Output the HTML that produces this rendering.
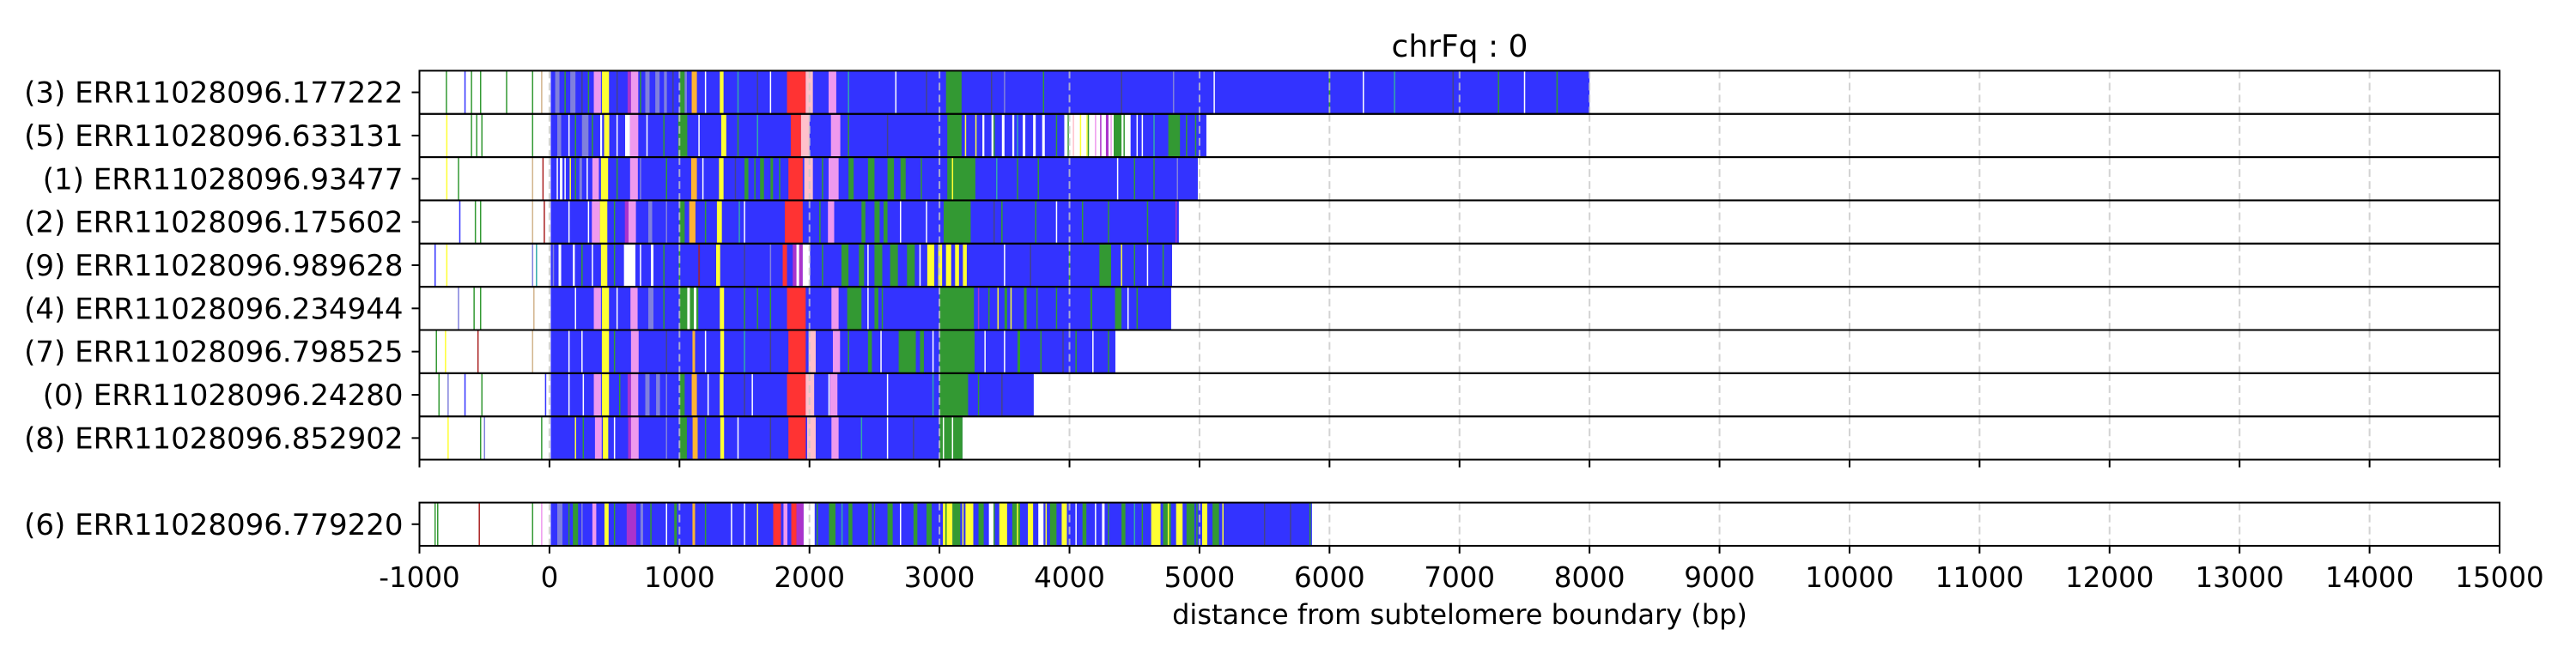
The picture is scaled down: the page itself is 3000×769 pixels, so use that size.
<!DOCTYPE html>
<html><head><meta charset="utf-8">
<style>
html,body{margin:0;padding:0;background:#fff;}
svg{display:block;font-family:"DejaVu Sans","Liberation Sans",sans-serif;}
</style></head>
<body>
<svg id="chart" width="3000" height="769" viewBox="0 0 3000 769" xmlns="http://www.w3.org/2000/svg">
<text x="1700" y="66" font-size="36" text-anchor="middle">chrFq : 0</text>
<g id="tracks"></g>
<g id="axes"></g>
<text x="1700" y="727" font-size="32" text-anchor="middle">distance from subtelomere boundary (bp)</text>
</svg>
<script>
const readLabels = ["(3) ERR11028096.177222","(5) ERR11028096.633131","(1) ERR11028096.93477","(2) ERR11028096.175602","(9) ERR11028096.989628","(4) ERR11028096.234944","(7) ERR11028096.798525","(0) ERR11028096.24280","(8) ERR11028096.852902","(6) ERR11028096.779220"];
const readEnds = [8000,5053,4987,4841,4789,4782,4353,3725,3177,5865];
const xTicks = [-1000,0,1000,2000,3000,4000,5000,6000,7000,8000,9000,10000,11000,12000,13000,14000,15000];
const colorKeys = {B:"#3333ff",G:"#339933",Y:"#ffff33",P:"#ee99ee",L:"#8080dd",O:"#ffb333",R:"#ff3333",M:"#aa33cc",W:"#ffffff",K:"#ffc0cb",C:"#33aaaa",D:"#444488",T:"#d2b48c",N:"#aa2222"};
// blocks per read: [start, end, color]
const blocks0 = [[44,77,"L"],[160,200,"L"],[341,396,"P"],[403,458,"Y"],[601,627,"M"],[627,683,"P"],[737,770,"L"],[814,847,"L"],[881,903,"L"],[1002,1040,"G"],[1040,1057,"L"],[1094,1134,"O"],[1310,1339,"Y"],[1827,1971,"R"],[1971,2026,"K"],[2147,2206,"P"],[3050,3170,"G"]];
const blocks1 = [[60,90,"L"],[250,300,"L"],[390,405,"W"],[420,460,"Y"],[582,620,"W"],[620,683,"P"],[990,1060,"G"],[1321,1360,"Y"],[1856,1935,"R"],[1935,2000,"K"],[2165,2237,"P"],[3060,3170,"G"],[3330,3345,"W"],[3400,3415,"W"],[3480,3500,"W"],[3560,3575,"W"],[3640,3660,"W"],[3720,3740,"W"],[3790,3810,"W"],[3960,4470,"W"],[4080,4090,"Y"],[4130,4140,"Y"],[4140,4150,"G"],[4280,4300,"M"],[4340,4400,"G"],[4760,4850,"G"]];
const blocks2 = [[80,100,"W"],[230,250,"L"],[330,380,"P"],[396,451,"Y"],[620,680,"P"],[1090,1134,"O"],[1304,1339,"Y"],[1500,1530,"G"],[1620,1650,"G"],[1700,1720,"G"],[1838,1948,"R"],[1960,2026,"K"],[2147,2224,"P"],[2300,2340,"G"],[2450,2500,"G"],[2600,2650,"G"],[2700,2740,"G"],[3060,3276,"G"]];
const blocks3 = [[326,388,"P"],[388,445,"Y"],[580,608,"M"],[608,665,"P"],[760,790,"L"],[1000,1040,"G"],[1075,1123,"O"],[1288,1326,"Y"],[1810,1948,"R"],[2142,2190,"P"],[2400,2430,"G"],[2500,2540,"G"],[2570,2600,"G"],[3032,3240,"G"]];
const blocks4 = [[70,90,"W"],[180,195,"W"],[396,445,"Y"],[573,661,"W"],[780,800,"W"],[1282,1313,"Y"],[1794,1827,"R"],[1871,1948,"M"],[1900,1920,"W"],[1948,2004,"W"],[2246,2300,"G"],[2380,2420,"G"],[2500,2560,"G"],[2620,2680,"G"],[2750,2810,"G"],[2906,2960,"Y"],[2990,3020,"Y"],[3050,3090,"Y"],[3120,3150,"Y"],[3180,3210,"Y"],[4230,4320,"G"]];
const blocks5 = [[341,396,"P"],[403,458,"Y"],[623,678,"P"],[760,800,"L"],[1002,1145,"G"],[1060,1080,"W"],[1110,1130,"W"],[1310,1343,"Y"],[1827,1971,"R"],[2169,2224,"P"],[2290,2400,"G"],[2500,2530,"G"],[3000,3265,"G"],[3500,3520,"G"],[3650,3670,"G"],[4160,4175,"G"],[4350,4400,"G"]];
const blocks6 = [[403,458,"Y"],[627,686,"P"],[1100,1120,"O"],[1314,1343,"Y"],[1838,1971,"R"],[1993,2048,"K"],[2180,2235,"P"],[2450,2480,"G"],[2686,2818,"G"],[2850,2880,"G"],[3000,3270,"G"],[3600,3620,"G"]];
const blocks7 = [[341,396,"P"],[403,458,"Y"],[601,627,"M"],[627,683,"P"],[737,770,"L"],[820,850,"L"],[1002,1040,"G"],[1094,1134,"O"],[1310,1339,"Y"],[1827,1971,"R"],[1971,2036,"K"],[2158,2215,"P"],[3000,3220,"G"]];
const blocks8 = [[350,402,"P"],[410,452,"Y"],[605,627,"M"],[627,686,"P"],[1002,1057,"G"],[1101,1140,"O"],[1314,1343,"Y"],[1838,1971,"R"],[1982,2048,"K"],[2169,2224,"P"],[3000,3177,"G"]];
const blocks9 = [[60,100,"L"],[180,220,"G"],[330,360,"P"],[423,455,"Y"],[594,667,"M"],[700,720,"L"],[960,980,"G"],[1100,1120,"O"],[1721,1780,"R"],[1800,1830,"P"],[1860,1900,"R"],[1900,1955,"M"],[1955,2040,"W"],[2150,2200,"G"],[2300,2330,"G"],[2450,2480,"G"],[2600,2640,"G"],[2800,2830,"G"],[2900,2940,"G"],[3026,3100,"Y"],[3100,3160,"G"],[3200,3260,"Y"],[3300,3340,"G"],[3380,3420,"W"],[3460,3520,"Y"],[3560,3620,"G"],[3680,3720,"Y"],[3760,3800,"W"],[3850,3900,"G"],[3940,3980,"Y"],[4100,4130,"G"],[4250,4270,"W"],[4400,4430,"G"],[4628,4700,"Y"],[4720,4780,"G"],[4820,4870,"Y"],[4900,4960,"G"],[5020,5060,"Y"],[5100,5150,"G"]];
const blocksAll = [blocks0,blocks1,blocks2,blocks3,blocks4,blocks5,blocks6,blocks7,blocks8,blocks9];
// thin marks per read: [position, color]
const lines0 = [[-793,"G"],[-650,"B"],[-600,"G"],[-530,"G"],[-330,"G"],[-130,"G"],[-60,"T"],[120,"G"],[250,"D"],[300,"G"],[520,"D"],[700,"G"],[950,"D"],[1200,"W"],[1450,"C"],[1600,"D"],[1700,"W"],[2300,"C"],[2664,"W"],[2900,"D"],[3400,"D"],[3500,"L"],[3800,"G"],[4400,"D"],[4800,"L"],[5113,"W"],[6000,"G"],[6260,"W"],[6500,"C"],[6950,"D"],[7300,"G"],[7500,"W"],[7750,"G"]];
const lines1 = [[-790,"Y"],[-600,"G"],[-560,"G"],[-520,"G"],[-130,"G"],[150,"W"],[200,"G"],[330,"G"],[520,"W"],[750,"W"],[880,"G"],[1150,"W"],[1450,"G"],[1600,"C"],[2300,"G"],[2600,"D"],[3200,"Y"],[3280,"Y"],[3420,"G"],[3600,"C"],[3900,"G"],[3990,"G"],[4030,"K"],[4200,"P"],[4240,"M"],[4320,"P"],[4420,"G"],[4520,"W"],[4560,"W"],[4650,"C"],[4900,"G"],[4970,"G"]];
const lines2 = [[-790,"Y"],[-700,"G"],[-130,"T"],[-50,"N"],[60,"W"],[120,"W"],[160,"Y"],[200,"G"],[290,"W"],[520,"G"],[700,"L"],[900,"G"],[1180,"W"],[1430,"D"],[1580,"G"],[1770,"G"],[2100,"G"],[2860,"G"],[3100,"Y"],[3440,"C"],[3600,"G"],[3760,"G"],[4370,"W"],[4500,"G"],[4650,"G"],[4830,"L"]];
const lines3 = [[-690,"B"],[-570,"G"],[-530,"G"],[-130,"T"],[-40,"N"],[150,"W"],[300,"W"],[500,"G"],[900,"L"],[1200,"G"],[1460,"C"],[1500,"W"],[2080,"G"],[2700,"W"],[2900,"W"],[3420,"D"],[3480,"G"],[3740,"G"],[3900,"W"],[4100,"G"],[4300,"G"],[4600,"G"],[4820,"M"]];
const lines4 = [[-880,"B"],[-790,"Y"],[-130,"L"],[-100,"C"],[30,"L"],[250,"G"],[330,"W"],[500,"G"],[700,"W"],[880,"G"],[1000,"G"],[1150,"N"],[1500,"D"],[1700,"L"],[2100,"G"],[2450,"W"],[2850,"W"],[3500,"W"],[3700,"D"],[4000,"G"],[4400,"Y"],[4500,"G"],[4600,"W"],[4720,"G"]];
const lines5 = [[-700,"L"],[-580,"G"],[-530,"G"],[-120,"T"],[200,"W"],[520,"W"],[880,"G"],[1500,"G"],[1600,"G"],[1700,"G"],[2450,"W"],[2560,"G"],[3300,"M"],[3380,"G"],[3450,"Y"],[3550,"Y"],[3750,"G"],[3900,"G"],[4450,"W"],[4520,"G"]];
const lines6 = [[-870,"G"],[-800,"Y"],[-550,"N"],[-130,"T"],[150,"W"],[250,"W"],[500,"G"],[900,"D"],[1200,"W"],[1500,"C"],[1700,"D"],[2300,"G"],[2550,"W"],[2950,"W"],[3350,"W"],[3500,"W"],[3780,"G"],[3950,"D"],[4050,"G"],[4180,"W"],[4300,"G"]];
const lines7 = [[-850,"G"],[-780,"L"],[-650,"B"],[-520,"G"],[-30,"B"],[150,"W"],[260,"W"],[540,"G"],[900,"L"],[1220,"W"],[1500,"D"],[1560,"W"],[2150,"W"],[2600,"W"],[2950,"C"],[3300,"G"],[3480,"D"]];
const lines8 = [[-780,"Y"],[-530,"G"],[-500,"L"],[-60,"G"],[200,"Y"],[260,"G"],[500,"W"],[900,"L"],[1200,"G"],[1450,"W"],[1700,"D"],[2400,"C"],[2600,"W"],[2800,"D"],[3030,"W"],[3100,"W"]];
const lines9 = [[-880,"G"],[-860,"G"],[-540,"N"],[-130,"G"],[-60,"P"],[150,"G"],[250,"L"],[500,"G"],[780,"G"],[900,"W"],[1200,"G"],[1400,"W"],[1500,"W"],[1600,"Y"],[2060,"G"],[2250,"C"],[2500,"G"],[2700,"W"],[3050,"G"],[3180,"Y"],[3420,"G"],[3600,"Y"],[3820,"Y"],[4050,"W"],[4200,"W"],[4300,"G"],[4500,"C"],[4560,"G"],[4760,"Y"],[4980,"G"],[5180,"Y"],[5500,"D"],[5700,"D"],[5850,"G"]];
const linesAll = [lines0,lines1,lines2,lines3,lines4,lines5,lines6,lines7,lines8,lines9];

const NS = "http://www.w3.org/2000/svg";
const X0 = 488.5, X1 = 2911, DMIN = -1000, DMAX = 15000;
function xScale(v){ return X0 + (v - DMIN) * (X1 - X0) / (DMAX - DMIN); }
const rowTop0 = 82.4, rowH = 50.35, bottomTop = 585.6;
function rowTop(i){ return i < 9 ? rowTop0 + i * rowH : bottomTop; }
function mk(tag, attrs){ const e = document.createElementNS(NS, tag); for (const k in attrs) e.setAttribute(k, attrs[k]); return e; }

const tracks = document.getElementById('tracks');
const axes = document.getElementById('axes');
for (let i = 0; i < readLabels.length; i++) {
  const top = rowTop(i);
  const g = mk('g', {});
  
  
  tracks.appendChild(g);
  const base = mk('rect', {x: xScale(10), y: top, width: xScale(readEnds[i]) - xScale(10), height: rowH, fill: colorKeys.B});
  
  
  g.appendChild(base);
  for (const b of blocksAll[i]) {
    const r = mk('rect', {x: xScale(b[0]), y: top, width: Math.max(1, xScale(b[1]) - xScale(b[0])), height: rowH, fill: colorKeys[b[2]]});
    
    
    g.appendChild(r);
  }
  for (const l of linesAll[i]) {
    const r = mk('rect', {x: xScale(l[0]) - 0.7, y: top, width: 1.5, height: rowH, fill: colorKeys[l[1]]});
    
    
    g.appendChild(r);
  }
  for (const t of xTicks) {
    if (t <= DMIN || t >= DMAX) continue;
    const gl = mk('line', {x1: xScale(t), x2: xScale(t), y1: top, y2: top + rowH, stroke: '#c8c8c8', 'stroke-width': 2, 'stroke-dasharray': '9,5', 'stroke-opacity': 0.8});
    
    
    g.appendChild(gl);
  }
  const frame = mk('rect', {x: X0, y: top, width: X1 - X0, height: rowH, fill: 'none', stroke: '#000', 'stroke-width': 2});
  
  
  axes.appendChild(frame);
  const cy = top + rowH / 2;
  const yt = mk('line', {x1: X0 - 9, x2: X0, y1: cy, y2: cy, stroke: '#000', 'stroke-width': 2});
  
  
  axes.appendChild(yt);
  const lab = mk('text', {x: X0 - 19, y: cy + 12, 'font-size': 34, 'text-anchor': 'end'});
  lab.textContent = readLabels[i];
  
  
  axes.appendChild(lab);
}
for (const base of [rowTop(8) + rowH, bottomTop + rowH]) {
  for (const t of xTicks) {
    const tk = mk('line', {x1: xScale(t), x2: xScale(t), y1: base, y2: base + 9, stroke: '#000', 'stroke-width': 2});
    
    
    axes.appendChild(tk);
  }
}
for (const t of xTicks) {
  const tl = mk('text', {x: xScale(t), y: 684, 'font-size': 32.5, 'text-anchor': 'middle'});
  tl.textContent = String(t);
  
  
  axes.appendChild(tl);
}
</script>
</body></html>
